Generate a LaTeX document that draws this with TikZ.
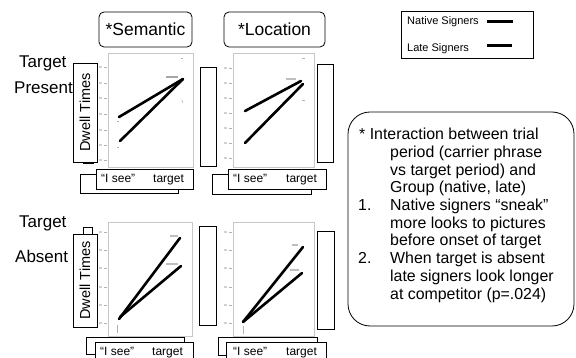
\documentclass[tikz,border=0pt]{standalone}
\usepackage{fontspec}
\setmainfont{Liberation Sans}
\begin{document}
\begin{tikzpicture}[x=1pt,y=-1pt,
  box/.style={draw=black, line width=0.8pt, fill=white, inner sep=0pt},
  header/.style={box, rounded corners=5pt, font=\fontsize{17.5}{20}\selectfont},
  side/.style={font=\fontsize{17}{20}\selectfont, anchor=base west, inner sep=0pt},
  plotframe/.style={draw=black!22, line width=0.8pt, fill=white},
  tickmark/.style={draw=black!30, line width=0.6pt},
  ticklab/.style={draw=black!18, line width=1.4pt},
  smudge/.style={draw=black!35, line width=1.6pt},
  dataline/.style={line width=2.6pt, line cap=round},
  seetxt/.style={font=\fontsize{12}{14}\selectfont, anchor=base west, inner sep=0pt},
  note/.style={font=\fontsize{15.9}{18}\selectfont, anchor=base west, inner sep=0pt},
  legtxt/.style={font=\fontsize{11}{13}\selectfont, anchor=base west, inner sep=0pt}]
\useasboundingbox (0,0) rectangle (576,358);
\clip (0,0) rectangle (576,358);

% column headers
\node[header, minimum width=93pt, minimum height=35pt] (sem) at (145.5,29.5) {*Semantic};
\node[header, minimum width=101pt, minimum height=35pt] (loc) at (274.5,29.5) {*Location};

% legend
\node[box, minimum width=132pt, minimum height=47pt] (leg) at (467,34.5) {};
\node[legtxt] (nat) at (407,25) {Native Signers};
\node[legtxt] (lat) at (407,52) {Late Signers};
\coordinate (natA) at (487,22); \coordinate (natB) at (513,22);
\coordinate (latA) at (487,46); \coordinate (latB) at (512,46);
\draw[line width=3pt] (natA) -- (natB);
\draw[line width=3pt] (latA) -- (latB);

% row labels
\node[side] (tp1) at (19,68) {Target};
\node[side] (tp2) at (14,94) {Present};
\node[side] (ta1) at (19,228) {Target};
\node[side] (ta2) at (15,263) {Absent};

% ---------- plot frames ----------
\node[plotframe, minimum width=85pt, minimum height=114pt] (p1) at (150.5,110) {};
\node[plotframe, minimum width=81pt, minimum height=114pt] (p2) at (273.5,110) {};
\node[plotframe, minimum width=84pt, minimum height=114pt] (p3) at (150,279) {};
\node[plotframe, minimum width=81pt, minimum height=114pt] (p4) at (273.5,279) {};

% axis ticks and their faint labels
\foreach \t in {67,83,98,114,130,145,160} {
  \draw[tickmark] (104,\t) -- (107,\t);
  \draw[ticklab] (99,\t) -- (102,\t);
}
\foreach \t in {68,83,98,113,128,143,158} {
  \draw[tickmark] (229,\t) -- (232,\t);
  \draw[ticklab] (224,\t) -- (227,\t);
}
\foreach \t in {232,250,268,287,305,323} {
  \draw[tickmark] (104,\t) -- (107,\t);
  \draw[ticklab] (99,\t) -- (102,\t);
  \draw[tickmark] (229,\t) -- (232,\t);
  \draw[ticklab] (224,\t) -- (227,\t);
}

% faint point labels near the line ends
\draw[smudge] (166,77) -- (178,77);
\draw[tickmark] (181,58) -- (183,58);
\draw[tickmark] (182,100) -- (183,103);
\draw[smudge, draw=black!25] (286,79) -- (296,79);
\draw[tickmark] (302,58) -- (305,58);
\draw[tickmark] (302,100) -- (305,100);
\draw[smudge, draw=black!25] (170,236) -- (178,236);
\draw[smudge, draw=black!25] (166,264) -- (178,264);
\draw[smudge, draw=black!25] (292,245) -- (298,245);
\draw[smudge, draw=black!25] (290,270) -- (299,270);
\draw[tickmark] (117,147) -- (119,147);
\draw[tickmark] (117,121) -- (119,121);
\draw[tickmark] (117,325) -- (117,333);
\draw[tickmark] (243,326) -- (243,334);

% data lines
\draw[dataline] (119,117) -- (183,79);
\draw[dataline] (120,141) -- (183,79);
\draw[dataline] (245,111) -- (301,81);
\draw[dataline] (245,143) -- (303,84);
\draw[dataline] (119,319) -- (180,238);
\draw[dataline] (120,317) -- (181,266);
\draw[dataline] (243,322) -- (303,247);
\draw[dataline] (243,322) -- (302,273);

% empty side panels
\node[box, minimum width=16pt, minimum height=99pt] (r1) at (208,116.5) {};
\node[box, minimum width=16pt, minimum height=98pt] (r2) at (325,113) {};
\node[box, minimum width=17pt, minimum height=99pt] (r3) at (207.5,275.5) {};
\node[box, minimum width=17pt, minimum height=98pt] (r4) at (325.5,280) {};

% y-axis titles
\node[box, minimum width=10pt, minimum height=23pt] (d1b) at (88,151.5) {};
\node[box, rotate=90, minimum width=99pt, minimum height=24pt,
      font=\fontsize{14.5}{16}\selectfont] (d1) at (85,112.5) {Dwell Times};
\node[box, minimum width=9pt, minimum height=30pt] (d2b) at (87.5,242) {};
\node[box, rotate=90, minimum width=93pt, minimum height=24pt,
      font=\fontsize{14.5}{16}\selectfont] (d2) at (85,280.5) {Dwell Times};

% x-axis titles (stacked)
\node[box, minimum width=98pt, minimum height=19pt] (x1b) at (129,183.5) {};
\node[box, minimum width=97pt, minimum height=20pt] (x1) at (144.5,179) {};
\node[seetxt] (x1s) at (101,183) {``I see''};
\node[seetxt] (x1t) at (153,183) {target};

\node[box, minimum width=99pt, minimum height=20pt] (x2b) at (261.5,184) {};
\node[box, minimum width=98pt, minimum height=20pt] (x2) at (277,179.5) {};
\node[seetxt] (x2s) at (233,183) {``I see''};
\node[seetxt] (x2t) at (286,183) {target};

\node[box, minimum width=98pt, minimum height=17pt] (x3b) at (135,345.5) {};
\node[box, minimum width=98pt, minimum height=20pt] (x3) at (144,352) {};
\node[seetxt] (x3s) at (100,355) {``I see''};
\node[seetxt] (x3t) at (152,355) {target};

\node[box, minimum width=99pt, minimum height=18pt] (x4b) at (267.5,346) {};
\node[box, minimum width=100pt, minimum height=20pt] (x4) at (276,352) {};
\node[seetxt] (x4s) at (233,355) {``I see''};
\node[seetxt] (x4t) at (286,355) {target};

% findings
\node[draw=black, line width=0.8pt, rounded corners=22pt, minimum width=226pt,
      minimum height=214pt] (fbox) at (461,219) {};
\node[note] (n1) at (359,140) {* Interaction between trial};
\node[note] (n2) at (390,157.5) {period (carrier phrase};
\node[note] (n3) at (390,175.5) {vs target period) and};
\node[note] (n4) at (390,193) {Group (native, late)};
\node[note] (n5a) at (358,211) {1.};
\node[note] (n5) at (390,211) {Native signers ``sneak''};
\node[note] (n6) at (390,228.5) {more looks to pictures};
\node[note] (n7) at (390,246) {before onset of target};
\node[note] (n8a) at (358,264) {2.};
\node[note] (n8) at (390,264) {When target is absent};
\node[note] (n9) at (390,282) {late signers look longer};
\node[note] (n10) at (390,299.5) {at competitor (p=.024)};
\end{tikzpicture}
\end{document}
